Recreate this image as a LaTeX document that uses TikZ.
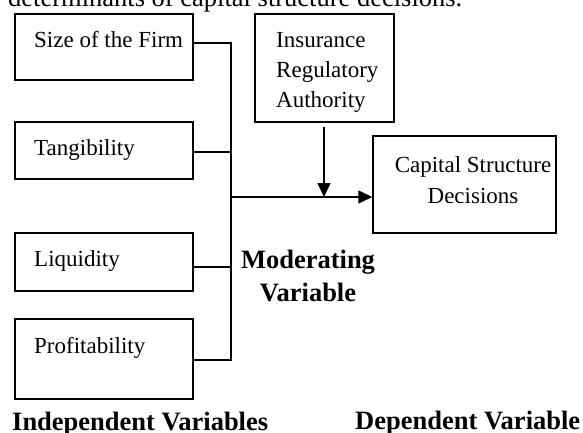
\documentclass[tikz,border=0pt]{standalone}
\usepackage{fontspec}
\setmainfont{Liberation Serif}
\usetikzlibrary{arrows.meta}
\tikzset{
	var/.style = {draw, line width = 1.4pt, inner sep = 0pt},
	lbl/.style = {anchor = base west, inner sep = 0pt, font = \fontsize{23}{30}\selectfont},
	hdr/.style = {inner sep = 0pt, font = \fontsize{26.5}{33}\selectfont\bfseries},
	link/.style = {line width = 1.4pt},
	tip/.style = {link, -{Triangle[length = 14pt, width = 13pt]}}
}

\begin{document}
\begin{tikzpicture}[x = 1pt, y = -1pt]
	\useasboundingbox (0,0) rectangle (583,432);
	\node[anchor = base west, inner sep = 0pt, font = \fontsize{26.5}{30}\selectfont] (caption) at (8,6) {determinants of capital structure decisions.};
	\node[var, minimum width = 178pt, minimum height = 66pt] (size) at (104,47) {};
	\node[var, minimum width = 178pt, minimum height = 57pt] (tang) at (104,150.5) {};
	\node[var, minimum width = 178pt, minimum height = 58pt] (liq) at (104,262) {};
	\node[var, minimum width = 178pt, minimum height = 80pt] (prof) at (104,359) {};
	\node[var, minimum width = 139pt, minimum height = 108pt] (ira) at (324.5,68) {};
	\node[var, minimum width = 183pt, minimum height = 97pt] (csd) at (464.5,184.5) {};
	\node[lbl] (size-t) at (34,47) {Size of the Firm};
	\node[lbl] (tang-t) at (34,155) {Tangibility};
	\node[lbl] (liq-t) at (34,266) {Liquidity};
	\node[lbl] (prof-t) at (34,353) {Profitability};
	\node[lbl, align = left] (ira-t) at (276,107) {Insurance\\Regulatory\\Authority};
	\node[lbl, anchor = base, align = center, font = \fontsize{23}{31}\selectfont] (csd-t) at (473,203) {Capital Structure\\Decisions};
	\node[hdr, anchor = base, align = center] (mod) at (308,301) {Moderating\\Variable};
	\node[hdr, anchor = base west] (ind) at (12,430) {Independent Variables};
	\node[hdr, anchor = base west] (dep) at (355,429) {Dependent Variable};
	\coordinate (bus1) at (231,43);
	\coordinate (bus2) at (231,360);
	\coordinate (bus3) at (231,152);
	\coordinate (bus4) at (231,267);
	\coordinate (junc) at (231,197);
	\coordinate (meet) at (324,197);
	\draw[link] (size.east |- bus1) -- (bus1) -- (bus2) -- (prof.east |- bus2);
	\draw[link] (tang.east |- bus3) -- (bus3);
	\draw[link] (liq.east |- bus4) -- (bus4);
	\draw[tip] (junc) -- (csd.west |- junc);
	\draw[tip, shorten <= 4pt] (ira.south -| meet) -- (meet);
\end{tikzpicture}
\end{document}
